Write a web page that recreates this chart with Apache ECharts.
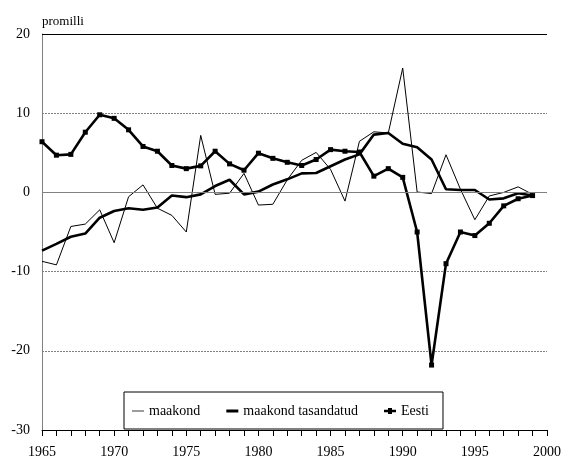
<!DOCTYPE html>
<html>
<head>
<meta charset="utf-8">
<script src="https://cdn.jsdelivr.net/npm/echarts@6/dist/echarts.min.js"></script>
<style>
html,body{margin:0;padding:0;background:#fff;}
#chart{width:564px;height:459px;}
</style>
</head>
<body>
<div id="chart"></div>
<script>
var years = [1965,1966,1967,1968,1969,1970,1971,1972,1973,1974,1975,1976,1977,1978,1979,1980,1981,1982,1983,1984,1985,1986,1987,1988,1989,1990,1991,1992,1993,1994,1995,1996,1997,1998,1999];
var maakond = [-8.7,-9.15,-4.3,-4.0,-2.2,-6.35,-0.55,0.95,-2.0,-2.9,-5.0,7.2,-0.25,-0.1,2.4,-1.6,-1.5,1.6,4.05,5.05,2.9,-1.1,6.45,7.65,7.5,15.7,0.05,-0.15,4.75,0.4,-3.45,-0.45,0.0,0.7,-0.25];
var maakondTasandatud = [-7.35,-6.5,-5.6,-5.2,-3.2,-2.35,-2.0,-2.2,-1.9,-0.4,-0.6,-0.25,0.8,1.6,-0.25,0.1,1.0,1.65,2.4,2.45,3.3,4.15,4.8,7.3,7.5,6.15,5.7,4.15,0.4,0.3,0.3,-0.9,-0.75,-0.1,-0.4];
var eesti = [6.4,4.7,4.8,7.6,9.8,9.35,7.9,5.8,5.2,3.4,3.0,3.35,5.2,3.6,2.8,4.95,4.3,3.8,3.4,4.15,5.4,5.2,5.1,2.05,3.0,1.9,-5.0,-21.8,-9.0,-5.0,-5.45,-3.9,-1.7,-0.8,-0.4];
var seriesNames = ['maakond','maakond tasandatud','Eesti'];
var yTicks = {min:-30, max:20, interval:10};
var xTicks = {min:1965, max:2000, interval:5};

function pairs(v){ return years.map(function(y,i){ return [y, v[i]]; }); }

var font = 'Liberation Serif';
var chart = echarts.init(document.getElementById('chart'));
chart.setOption({
  animation:false,
  backgroundColor:'#fff',
  textStyle:{fontFamily:font},
  grid:{left:42, right:12, top:34, bottom:28},
  legend:{
    data:[
      {name:seriesNames[0], icon:'path://M0,0 H12 V1.3 H0 Z', itemStyle:{color:'#666'}},
      {name:seriesNames[1], icon:'path://M0,0 H12 V3 H0 Z'},
      {name:seriesNames[2], icon:'path://M0,2.2 H4 V0.5 H8 V2.2 H12 V4.8 H8 V6.5 H4 V4.8 H0 Z'}
    ],
    symbolKeepAspect:true,
    left:124, top:392,
    padding:[12,14,11,8],
    itemGap:26,
    itemWidth:12, itemHeight:14,
    borderColor:'#000', borderWidth:1,
    backgroundColor:'#fff',
    textStyle:{fontFamily:font, fontSize:14, color:'#000'}
  },
  xAxis:{
    type:'value', min:xTicks.min, max:xTicks.max, interval:xTicks.interval,
    axisLine:{onZero:false, lineStyle:{color:'#000', width:1}},
    axisTick:{show:true, length:6, lineStyle:{color:'#000'}},
    minorTick:{show:true, splitNumber:5, length:6, lineStyle:{color:'#000'}},
    splitLine:{show:false},
    axisLabel:{color:'#000', fontSize:14, fontFamily:font, margin:15,
      formatter:function(v){ return String(v); }}
  },
  yAxis:{
    type:'value', min:yTicks.min, max:yTicks.max, interval:yTicks.interval,
    name:'promilli', nameLocation:'end', nameGap:6,
    nameTextStyle:{align:'left', color:'#000', fontSize:13, fontFamily:font},
    axisLine:{show:true, lineStyle:{color:'#808080', width:1}},
    axisTick:{show:false},
    splitLine:{show:true, lineStyle:{color:'#808080', type:[2,1], width:1}},
    axisLabel:{color:'#000', fontSize:14, fontFamily:font, margin:12}
  },
  series:[
    {name:'maakond', type:'line', data:pairs(maakond), symbol:'none',
     lineStyle:{color:'#000', width:1}, itemStyle:{color:'#000'}, z:2,
     markLine:{silent:true, symbol:'none', label:{show:false},
       data:[{yAxis:0, lineStyle:{color:'#808080', type:'solid', width:1.2}},
             {yAxis:20, lineStyle:{color:'#000', type:'solid', width:1}}]}},
    {name:'maakond tasandatud', type:'line', data:pairs(maakondTasandatud), symbol:'none',
     lineStyle:{color:'#000', width:2.6}, itemStyle:{color:'#000'}, z:3},
    {name:'Eesti', type:'line', data:pairs(eesti), symbol:'rect', symbolSize:5, showSymbol:true,
     lineStyle:{color:'#000', width:2.6}, itemStyle:{color:'#000'}, z:4}
  ]
});
</script>
</body>
</html>
